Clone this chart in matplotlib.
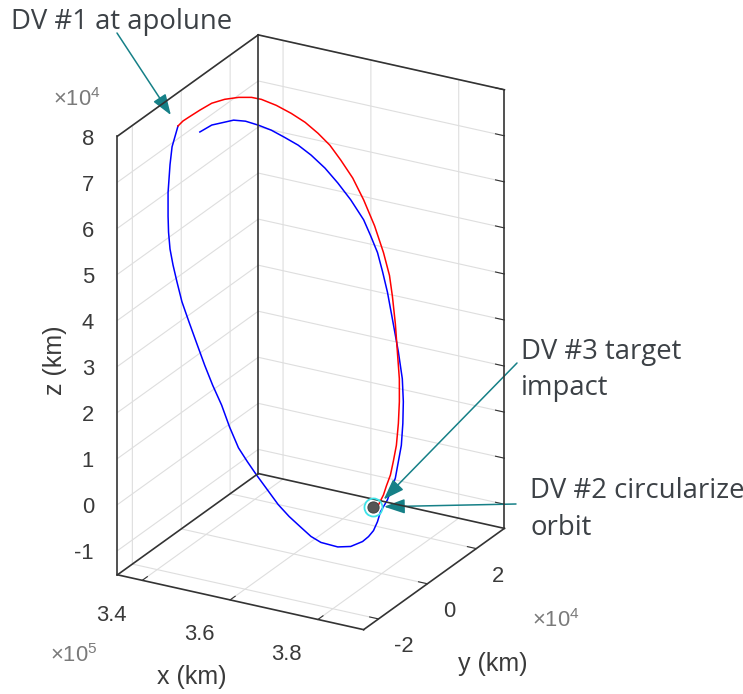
import numpy as np
import matplotlib
matplotlib.use('Agg')
import matplotlib.pyplot as plt
from matplotlib.ticker import NullFormatter

plt.rcParams['font.family'] = ['Liberation Sans', 'DejaVu Sans']
plt.rcParams['mathtext.default'] = 'regular'
plt.rcParams['grid.color'] = '#dedede'
plt.rcParams['grid.linewidth'] = 0.8

#%% trajectory data, units of 1000 km
# initial orbit (blue), ends at apolune
orbit_x = [343.13, 344.15, 346.37, 347.75, 349.37, 351.04, 352.80, 354.71, 356.60,
           358.74, 360.84, 363.05, 365.38, 366.88, 368.40, 369.81, 371.31, 373.06,
           375.20, 376.84, 377.98, 378.91, 379.72, 380.52, 380.62, 380.37, 380.48,
           380.44, 380.15, 379.71, 378.60, 377.18, 375.09, 373.71, 372.20, 370.38,
           368.61, 366.72, 364.84, 363.26, 361.63, 359.70, 357.83, 355.93, 354.15,
           352.28, 350.42, 348.75, 347.30, 346.10, 345.05, 344.13, 343.36, 342.29,
           341.26, 340.69, 340.42]
orbit_y = [-8.16, -5.12, -0.18, 2.22, 4.59, 6.87, 9.00, 11.25, 13.14,
           14.98, 16.46, 17.79, 18.87, 19.03, 19.12, 18.63, 17.97, 16.85,
           15.44, 14.10, 12.47, 10.60, 8.53, 4.64, 1.22, -1.18, -2.60,
           -4.16, -5.67, -7.31, -10.19, -12.92, -16.07, -17.65, -18.99, -20.59,
           -21.90, -22.97, -24.05, -24.86, -25.60, -25.78, -25.67, -25.92, -25.97,
           -25.86, -25.75, -25.59, -25.02, -24.48, -23.82, -22.77, -21.58, -19.66,
           -17.01, -15.15, -12.23]
orbit_z = [75.93, 76.49, 76.14, 75.29, 73.86, 72.26, 70.30, 68.12, 65.64,
           62.57, 59.22, 55.51, 51.27, 48.07, 44.69, 41.08, 37.12, 32.10,
           25.97, 21.01, 16.91, 13.08, 9.30, 3.84, 0.43, -1.29, -2.88,
           -4.23, -5.01, -5.55, -5.76, -5.12, -3.38, -1.77, 0.37, 2.97,
           5.69, 8.94, 12.18, 14.97, 17.93, 22.12, 26.43, 30.44, 34.40,
           38.70, 43.01, 46.91, 50.70, 53.91, 56.89, 59.96, 62.79, 67.00,
           71.81, 74.86, 78.21]

# transfer arc (red) from apolune down to the impact point
impact_x = [340.42, 340.75, 341.24, 342.15, 343.17, 344.44, 345.90, 347.35, 348.55,
            350.48, 352.51, 354.46, 356.40, 358.26, 360.15, 362.29, 364.49, 366.87,
            369.07, 370.77, 372.03, 373.61, 375.09, 376.51, 377.54, 378.41, 379.17,
            379.54, 379.84, 379.87, 379.95, 379.84]
impact_y = [-12.23, -10.80, -9.24, -6.40, -3.36, -0.36, 2.69, 5.38, 7.29,
            9.91, 12.36, 14.54, 16.34, 17.86, 18.92, 19.96, 20.48, 20.66,
            20.36, 19.76, 18.69, 17.07, 15.23, 13.48, 11.64, 9.67, 7.49,
            5.59, 3.84, 2.14, 0.80, -1.04]
impact_z = [78.21, 78.81, 79.17, 79.79, 80.35, 80.32, 79.89, 79.17, 78.26,
            76.37, 74.13, 71.77, 69.11, 66.33, 63.09, 59.26, 54.78, 49.60,
            44.36, 39.99, 36.13, 31.05, 26.02, 21.17, 17.14, 13.33, 9.58,
            6.94, 4.65, 2.94, 1.53, 0.05]

moon_pos = [379.3, -2.4, 0.0]

x_ticks = [3.4e5, 3.6e5, 3.8e5]
x_tick_labels = ['3.4', '3.6', '3.8']
y_ticks = [-2e4, 0, 2e4]
y_tick_labels = ['-2', '0', '2']
z_ticks = [-1e4, 0, 1e4, 2e4, 3e4, 4e4, 5e4, 6e4, 7e4, 8e4]
z_tick_labels = ['-1', '0', '1', '2', '3', '4', '5', '6', '7', '8']

xlim = (334350, 390400)
ylim = (-26100, 31500)
zlim = (-15240, 80000)

W, H = 743, 694
edge_col = '#333333'
tick_col = '#3a3a3a'
teal = '#168087'
note_col = '#3c4146'

#%%
fig = plt.figure(figsize=(W / 100, H / 100), dpi=100)
ax = fig.add_axes([-16.7 / W, 34.1 / H, 638 / W, 638 / H], projection='3d')
ax.set_proj_type('ortho')
ax.view_init(elev=23.6, azim=-60.9)
ax.set_xlim(*xlim)
ax.set_ylim(*ylim)
ax.set_zlim(*zlim)
ax.set_box_aspect((xlim[1] - xlim[0], ylim[1] - ylim[0], zlim[1] - zlim[0]), zoom=0.953)
ax.computed_zorder = False
ax.set_xticks(x_ticks)
ax.set_yticks(y_ticks)
ax.set_zticks(z_ticks)
ax.grid(True)

for axis in (ax.xaxis, ax.yaxis, ax.zaxis):
    axis.set_pane_color((1, 1, 1, 0))
    axis.line.set_visible(False)
    axis.set_major_formatter(NullFormatter())
    axis._axinfo['tick']['inward_factor'] = 0.0
    axis._axinfo['tick']['outward_factor'] = 0.45
    axis.set_tick_params(width=1.0, color=edge_col)

km = 1e3
ax.plot(np.array(orbit_x) * km, np.array(orbit_y) * km, np.array(orbit_z) * km,
        color='#0000ff', lw=1.1, zorder=3)
ax.plot(np.array(impact_x) * km, np.array(impact_y) * km, np.array(impact_z) * km,
        color='#ff0000', lw=1.1, zorder=3)

# box edges of the three back faces
x0, x1 = xlim
y0, y1 = ylim
z0, z1 = zlim
edges = [((x0, x0), (y0, y0), (z0, z1)), ((x0, x0), (y1, y1), (z0, z1)),
         ((x1, x1), (y1, y1), (z0, z1)), ((x0, x0), (y0, y1), (z1, z1)),
         ((x0, x1), (y1, y1), (z1, z1)), ((x0, x0), (y0, y1), (z0, z0)),
         ((x0, x1), (y1, y1), (z0, z0)), ((x0, x1), (y0, y0), (z0, z0)),
         ((x1, x1), (y0, y1), (z0, z0))]
for xs, ys, zs in edges:
    ax.plot(xs, ys, zs, color=edge_col, lw=1.2, zorder=4)

mx, my, mz = [v * km for v in moon_pos]
ax.plot([mx], [my], [mz], marker='o', ms=8, mfc='#555555', mec='#444444', mew=0.8,
        ls='none', zorder=5)
ax.plot([mx], [my], [mz], marker='o', ms=13, mfc='none', mec='#3fe3e8', mew=1.3,
        ls='none', zorder=6)

#%% tick labels placed on the projected tick positions
M = ax.get_proj()


def proj(x, y, z):
    p = M @ np.array([x, y, z, 1.0])
    return p[0] / p[3], p[1] / p[3]


tick_kw = dict(textcoords='offset pixels', fontsize=15.8, color=tick_col,
               annotation_clip=False)
for v, lbl in zip(x_ticks, x_tick_labels):
    ax.annotate(lbl, proj(v, y0, z0), xytext=(-31, -35), ha='center', va='center', **tick_kw)
for v, lbl in zip(y_ticks, y_tick_labels):
    ax.annotate(lbl, proj(x1, v, z0), xytext=(15.5, -28), ha='left', va='center', **tick_kw)
for v, lbl in zip(z_ticks, z_tick_labels):
    ax.annotate(lbl, proj(x0, y0, v), xytext=(-23.5, -3), ha='right', va='center', **tick_kw)

# axis labels and exponent markers
fig.text(192 / W, 1 - 677 / H, 'x (km)', ha='center', va='center', fontsize=18, color=tick_col)
fig.text(493 / W, 1 - 664 / H, 'y (km)', ha='center', va='center', fontsize=18, color=tick_col)
fig.text(55 / W, 1 - 360 / H, 'z (km)', ha='center', va='center', fontsize=18, color=tick_col,
         rotation=90)
exp_kw = dict(ha='left', va='baseline', fontsize=15.8, color='#7a7a7a')
fig.text(50 / W, 1 - 662 / H, r'$\times10^{5}$', **exp_kw)
fig.text(53 / W, 1 - 106 / H, r'$\times10^{4}$', **exp_kw)
fig.text(532 / W, 1 - 627 / H, r'$\times10^{4}$', **exp_kw)

#%% manoeuvre annotations
note_kw = dict(ha='left', va='baseline', fontsize=19.8, color=note_col, family='Open Sans')
fig.text(11 / W, 1 - 29.3 / H, 'DV #1 at apolune', **note_kw)
fig.text(521 / W, 1 - 359.3 / H, 'DV #3 target', **note_kw)
fig.text(521 / W, 1 - 395 / H, 'impact', **note_kw)
fig.text(530 / W, 1 - 498.3 / H, 'DV #2 circularize', **note_kw)
fig.text(530 / W, 1 - 535 / H, 'orbit', **note_kw)


def arrow(tail, tip_xyz, shrink):
    ax.annotate('', xy=proj(*tip_xyz), xycoords='data',
                xytext=(tail[0], H - tail[1]), textcoords='figure pixels',
                arrowprops=dict(arrowstyle='-|>,head_length=0.85,head_width=0.3',
                                mutation_scale=15, color=teal, lw=1.1,
                                shrinkA=0, shrinkB=shrink),
                annotation_clip=False)


arrow((117, 33), (impact_x[0] * km, impact_y[0] * km, impact_z[0] * km), 9.4)
arrow((517, 363), (impact_x[-1] * km, impact_y[-1] * km, impact_z[-1] * km), 5.4)
arrow((516, 504), (mx, my, mz), 8.1)

fig.savefig('out.png', dpi=100, facecolor='white')
